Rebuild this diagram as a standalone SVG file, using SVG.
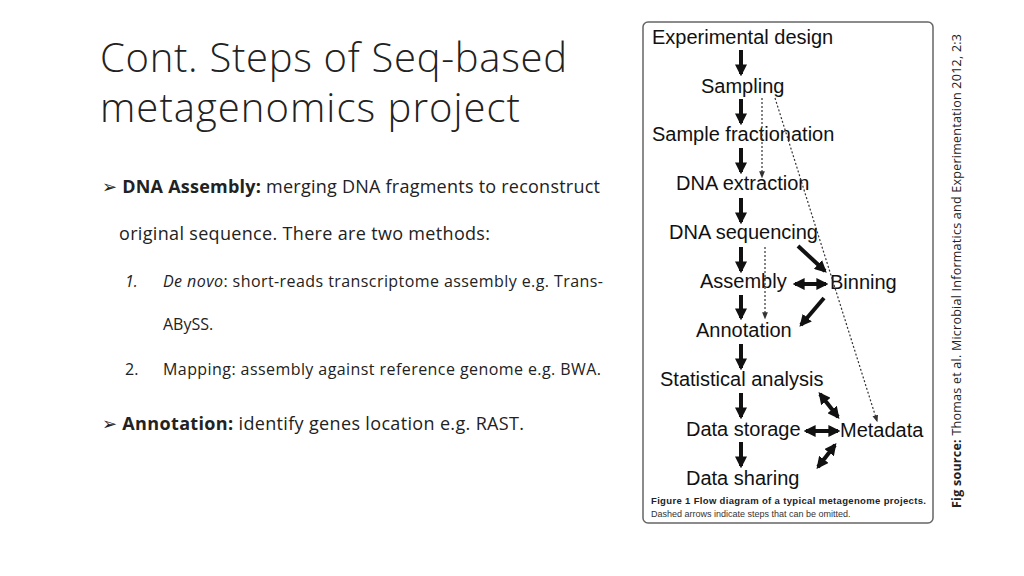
<svg xmlns="http://www.w3.org/2000/svg" width="1024" height="576" viewBox="0 0 1024 576">
<defs>
<style>
.t{font-family:"Open Sans","Liberation Sans",sans-serif;fill:#222}
.f{font-family:"Liberation Sans",Arial,sans-serif;font-size:20px;fill:#111}
.s{stroke:#111;stroke-width:4;fill:none}
.d{stroke:#333;stroke-width:1.2;stroke-dasharray:2,2;fill:none}
</style>
<marker id="a" viewBox="0 0 10 10" refX="8" refY="5" markerWidth="3" markerHeight="3" orient="auto-start-reverse"><path d="M0,0L10,5L0,10z" fill="#111"/></marker>
<marker id="ad" viewBox="0 0 10 10" refX="8" refY="5" markerWidth="6" markerHeight="6" orient="auto"><path d="M0,1L10,5L0,9z" fill="#333"/></marker>
</defs>
<rect width="1024" height="576" fill="#fff"/>
<text class="t" x="100" y="72" font-size="40" font-weight="300" textLength="467">Cont. Steps of Seq-based</text>
<text class="t" x="100" y="122" font-size="40" font-weight="300" textLength="420">metagenomics project</text>
<g class="t" font-size="18">
<text x="102" y="193" textLength="498">➢ <tspan font-weight="bold">DNA Assembly:</tspan> merging DNA fragments to reconstruct</text>
<text x="119" y="240" textLength="371">original sequence. There are two methods:</text>
<text x="125" y="287" font-size="16" font-style="italic">1.</text>
<text x="163" y="287" font-size="16" textLength="440"><tspan font-style="italic">De novo</tspan>:  short-reads transcriptome assembly e.g. Trans-</text>
<text x="163" y="330" font-size="16">ABySS.</text>
<text x="125" y="375" font-size="16">2.</text>
<text x="163" y="375" font-size="16" textLength="438">Mapping: assembly against reference genome e.g. BWA.</text>
<text x="102" y="430" textLength="422">➢  <tspan font-weight="bold">Annotation:</tspan> identify genes location e.g. RAST.</text>
</g>
<text class="t" transform="translate(961,508) rotate(-90)" font-size="12.5" textLength="474"><tspan font-weight="bold">Fig source: </tspan>Thomas et al. Microbial Informatics and Experimentation 2012, 2:3</text>
<rect x="643" y="22" width="290" height="501" rx="5" fill="#fff" stroke="#666" stroke-width="1.5"/>
<g id="n1"><text class="f" x="652" y="44">Experimental design</text></g>
<g id="n2"><text class="f" x="701" y="93">Sampling</text></g>
<g id="n3"><text class="f" x="652" y="141">Sample fractionation</text></g>
<g id="n4"><text class="f" x="676" y="190">DNA extraction</text></g>
<g id="n5"><text class="f" x="669" y="239">DNA sequencing</text></g>
<g id="n6"><text class="f" x="700" y="288">Assembly</text></g>
<g id="n7"><text class="f" x="830" y="289">Binning</text></g>
<g id="n8"><text class="f" x="696" y="337">Annotation</text></g>
<g id="n9"><text class="f" x="660" y="386">Statistical analysis</text></g>
<g id="n10"><text class="f" x="686" y="436">Data storage</text></g>
<g id="n11"><text class="f" x="840" y="437">Metadata</text></g>
<g id="n12"><text class="f" x="686" y="485">Data sharing</text></g>
<g id="connectors">
<path class="s" marker-end="url(#a)" d="M741,50V74"/>
<path class="s" marker-end="url(#a)" d="M741,99V123"/>
<path class="s" marker-end="url(#a)" d="M741,148V172"/>
<path class="s" marker-end="url(#a)" d="M741,198V222"/>
<path class="s" marker-end="url(#a)" d="M741,247V271"/>
<path class="s" marker-end="url(#a)" d="M741,295V318"/>
<path class="s" marker-end="url(#a)" d="M741,344V368"/>
<path class="s" marker-end="url(#a)" d="M741,393V417"/>
<path class="s" marker-end="url(#a)" d="M741,442V466"/>
<path class="s" marker-end="url(#a)" d="M798,246L825,271"/>
<path class="s" marker-end="url(#a)" d="M824,298L801,325"/>
<path class="s" marker-start="url(#a)" marker-end="url(#a)" d="M795,284H826"/>
<path class="s" marker-start="url(#a)" marker-end="url(#a)" d="M820,394L838,417"/>
<path class="s" marker-start="url(#a)" marker-end="url(#a)" d="M806,431H838"/>
<path class="s" marker-start="url(#a)" marker-end="url(#a)" d="M835,445L818,467"/>
<path class="d" marker-end="url(#ad)" d="M762,98V177"/>
<path class="d" marker-end="url(#ad)" d="M775,98L877,421"/>
<path class="d" marker-end="url(#ad)" d="M765,247V318"/>
</g>
<text x="651" y="504" font-family="Liberation Sans,sans-serif" font-size="9.5" font-weight="bold" fill="#222" textLength="275">Figure 1 Flow diagram of a typical metagenome projects.</text>
<text x="651" y="517" font-family="Liberation Sans,sans-serif" font-size="9" fill="#333">Dashed arrows indicate steps that can be omitted.</text>
</svg>
